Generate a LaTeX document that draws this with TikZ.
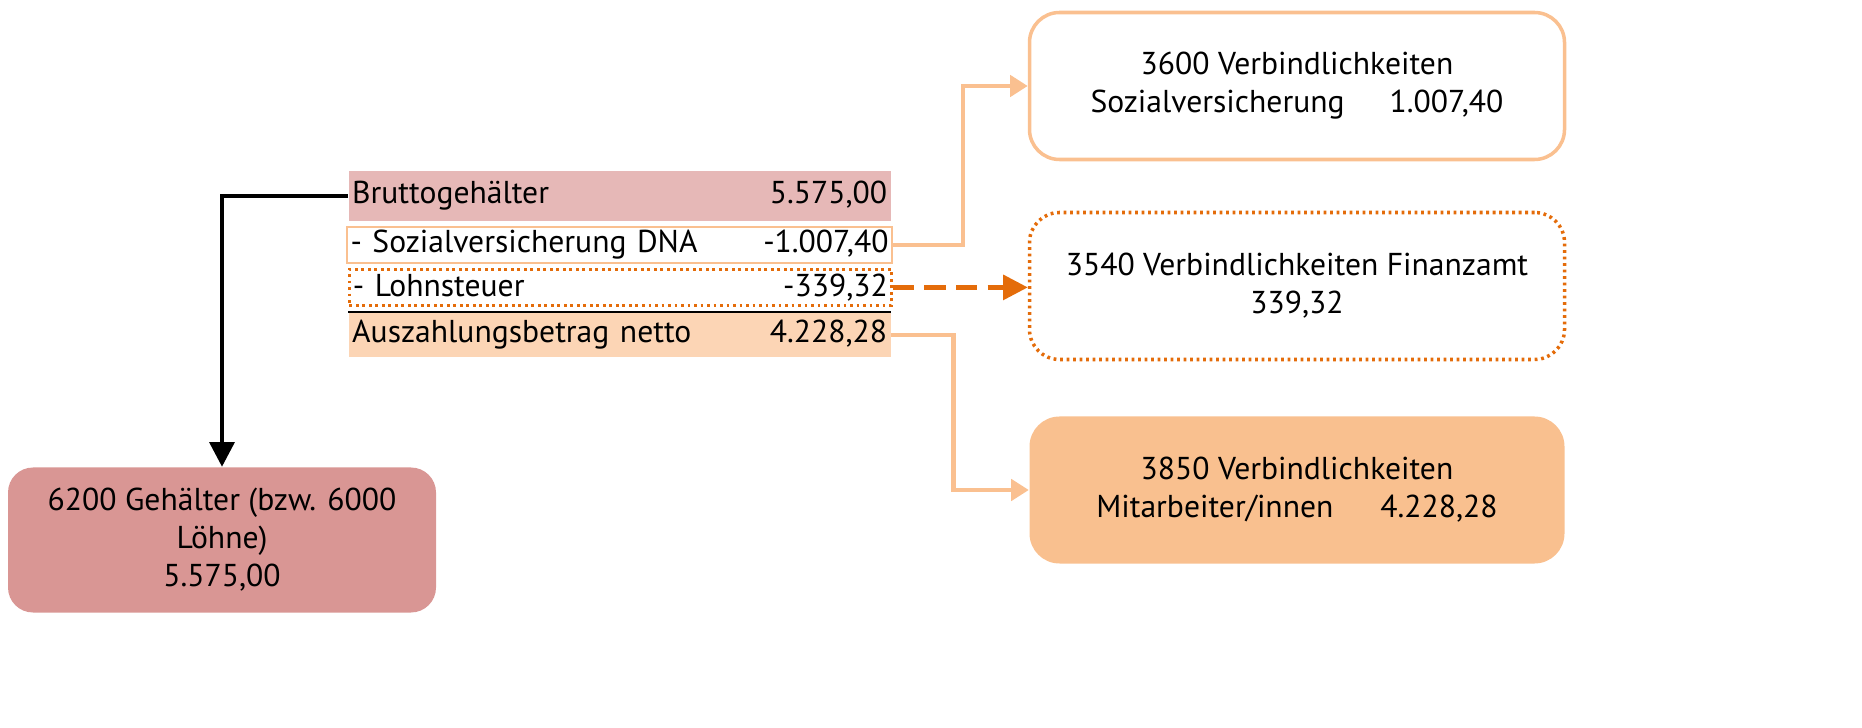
\documentclass[tikz,border=0pt]{standalone}
\usepackage{fontspec}
\setmainfont{PT Sans}
\usepackage{tikz}
\usetikzlibrary{positioning,arrows.meta}

\definecolor{bruttoRosa}{HTML}{E6B8B7}
\definecolor{nettoPfirsich}{HTML}{FCD5B5}
\definecolor{hellOrange}{HTML}{FAC090}
\definecolor{dunkelOrange}{HTML}{E46C0A}
\definecolor{kontoRot}{HTML}{D99694}
\definecolor{kontoOrange}{HTML}{F9C08F}

\begin{document}
\begin{tikzpicture}[font=\fontsize{9}{10.8}\selectfont,
        row/.style = {anchor=north west,
            inner xsep=1pt, inner ysep=0pt,
            text width=5.35cm},
        dots/.style = {dunkelOrange, line width=0.8pt,
            dash pattern=on 0.8pt off 1.05pt},
        konto/.style = {rounded corners=0.3cm,
            minimum width=5.35cm,
            minimum height=1.47cm,
            align=center},
        hellArrow/.style = {hellOrange, line width=1.2pt,
            -{Triangle[length=5pt,width=6pt]}}]

        \useasboundingbox (0,0) rectangle (18.62,-7.28);

        % Table rows
        \node[row,fill=bruttoRosa,minimum height=0.5cm] (brutto) at (3.48,-1.70)
            {Bruttogehälter\hfill 5.575,00};
        \node[row,draw=hellOrange,line width=0.6pt,minimum height=0.36cm,
            text width=5.38cm] (sv) at (3.46,-2.26)
            {- Sozialversicherung DNA\hfill -1.007,40};
        \node[row,draw,dots,text=black,minimum height=0.36cm] (lst) at (3.48,-2.68)
            {- Lohnsteuer\hfill -339,32};
        \node[row,fill=nettoPfirsich,minimum height=0.44cm] (netto) at (3.48,-3.12)
            {Auszahlungsbetrag netto\hfill 4.228,28};

        % Line above netto
        \draw[line width=0.6pt] (netto.north west) -- (netto.north east);

        % Accounts
        \node[konto,draw=hellOrange,line width=1pt] (k3600) at (12.97,-0.86)
            {3600 Verbindlichkeiten\\Sozialversicherung\hspace{0.45cm}1.007,40};
        \node[konto,draw,dots,line width=1pt,text=black] (k3540) at (12.97,-2.86)
            {3540 Verbindlichkeiten Finanzamt\\339,32};
        \node[konto,fill=kontoOrange] (k3850) at (12.97,-4.90)
            {3850 Verbindlichkeiten\\Mitarbeiter/innen\hspace{0.47cm}4.228,28};
        \node[konto,fill=kontoRot,rounded corners=0.25cm,
            minimum width=4.28cm,minimum height=1.45cm] (k6200) at (2.22,-5.40)
            {6200 Gehälter (bzw. 6000\\Löhne)\\5.575,00};

        % Connectors
        \draw[line width=1.2pt,-{Triangle[length=7pt,width=7pt]}]
            (brutto.west) -| (k6200.north);
        \draw[hellArrow] (sv.east) -- ++(0.70,0) |- (k3600.west);
        \draw[dunkelOrange,line width=1.2pt,dash pattern=on 6pt off 3pt,
            -{Triangle[length=7pt,width=7pt]}] (lst.east) -- (lst.east -| k3540.west);
        \draw[hellArrow] (netto.east) -- ++(0.62,0) |- (k3850.west);
    \end{tikzpicture}
\end{document}
